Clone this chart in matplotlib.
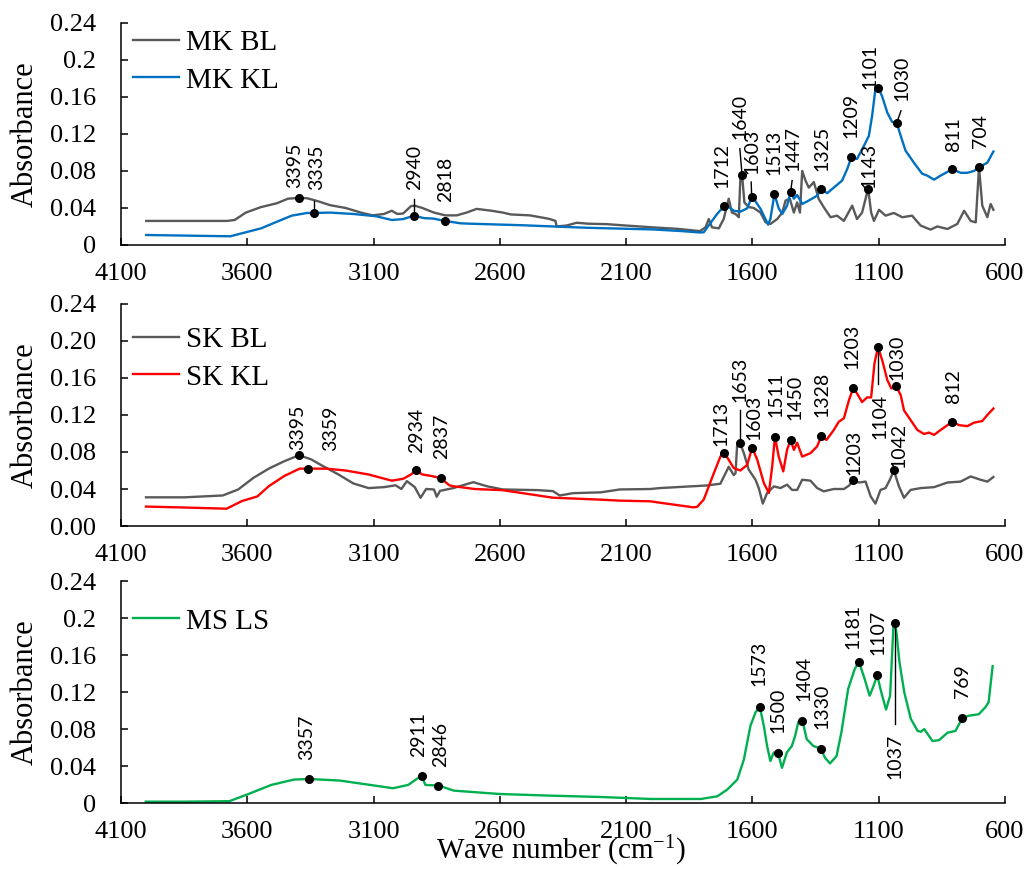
import matplotlib
matplotlib.use('Agg')
import matplotlib.pyplot as plt

plt.rcParams['font.family'] = ['Liberation Serif', 'DejaVu Serif']
plt.rcParams['mathtext.fontset'] = 'custom'
plt.rcParams['mathtext.rm'] = 'Liberation Serif'
plt.rcParams['mathtext.it'] = 'Liberation Serif:italic'

GRAY = '#595959'
BLUE = '#0070C0'
RED = '#FF0000'
GREEN = '#00B050'
LABEL_FONT = ['Lato', 'DejaVu Sans']

# ---- spectra: (wave number, absorbance) ----
mk_bl = [
    (4000, 0.026), (3850, 0.026), (3680, 0.026), (3650, 0.027), (3606, 0.035),
    (3545, 0.041), (3484, 0.045), (3439, 0.050), (3395, 0.051), (3363, 0.0505),
    (3317, 0.047), (3272, 0.043), (3211, 0.040), (3150, 0.035), (3104, 0.032),
    (3059, 0.0335), (3028, 0.037), (3006, 0.0335), (2983, 0.034), (2952, 0.042),
    (2937, 0.0425), (2907, 0.040), (2861, 0.035), (2816, 0.032), (2771, 0.032),
    (2732, 0.035), (2692, 0.039), (2633, 0.037), (2588, 0.035), (2557, 0.033),
    (2481, 0.032), (2420, 0.029), (2402, 0.028), (2380, 0.026), (2375, 0.020),
    (2336, 0.021), (2296, 0.024), (2250, 0.023), (2177, 0.0225), (2100, 0.021),
    (1994, 0.019), (1900, 0.0175), (1808, 0.015), (1786, 0.019), (1773, 0.028),
    (1760, 0.019), (1733, 0.018), (1714, 0.028), (1694, 0.050), (1681, 0.035),
    (1667, 0.0335), (1654, 0.030), (1648, 0.071), (1641, 0.0757), (1632, 0.046),
    (1615, 0.041), (1595, 0.040), (1568, 0.035), (1548, 0.0245), (1529, 0.0227),
    (1502, 0.028), (1482, 0.035), (1469, 0.048), (1452, 0.050), (1436, 0.035),
    (1423, 0.046), (1412, 0.035), (1403, 0.080), (1390, 0.0696), (1377, 0.062),
    (1357, 0.068), (1338, 0.050), (1318, 0.041), (1291, 0.030), (1265, 0.0317),
    (1238, 0.026), (1205, 0.0425), (1186, 0.028), (1166, 0.035), (1152, 0.050),
    (1142, 0.061), (1130, 0.035), (1119, 0.026), (1099, 0.038), (1073, 0.0317),
    (1040, 0.0346), (1007, 0.030), (968, 0.0317), (934, 0.021), (895, 0.0166),
    (868, 0.020), (828, 0.0173), (789, 0.0227), (762, 0.037), (736, 0.026),
    (716, 0.0245), (703, 0.084), (690, 0.0425), (670, 0.030), (657, 0.0443),
    (646, 0.038),
]
mk_kl = [
    (4000, 0.0108), (3819, 0.010), (3667, 0.0094), (3606, 0.0137), (3545, 0.018),
    (3484, 0.025), (3424, 0.0317), (3363, 0.0346), (3335, 0.0346), (3272, 0.035),
    (3180, 0.0335), (3089, 0.031), (3028, 0.027), (2983, 0.028), (2940, 0.0317),
    (2900, 0.029), (2863, 0.0285), (2818, 0.026), (2755, 0.0234), (2718, 0.023),
    (2520, 0.0214), (2256, 0.0186), (2100, 0.0175), (1994, 0.0168), (1880, 0.015),
    (1808, 0.0135), (1793, 0.0137), (1766, 0.0238), (1740, 0.0335), (1712, 0.042),
    (1694, 0.041), (1674, 0.037), (1648, 0.036), (1621, 0.0396), (1603, 0.0515),
    (1595, 0.050), (1568, 0.039), (1538, 0.022), (1529, 0.028), (1513, 0.055),
    (1496, 0.0396), (1482, 0.0335), (1463, 0.0425), (1449, 0.057), (1436, 0.050),
    (1423, 0.054), (1403, 0.0443), (1377, 0.048), (1344, 0.0533), (1327, 0.060),
    (1304, 0.056), (1278, 0.062), (1245, 0.0696), (1225, 0.082), (1208, 0.095),
    (1186, 0.093), (1159, 0.107), (1139, 0.118), (1126, 0.140), (1113, 0.169),
    (1102, 0.170), (1087, 0.161), (1066, 0.143), (1047, 0.133), (1029, 0.132),
    (1013, 0.118), (994, 0.102), (961, 0.089), (928, 0.077), (908, 0.075),
    (881, 0.0706), (855, 0.075), (828, 0.079), (809, 0.082), (776, 0.078),
    (749, 0.078), (723, 0.080), (703, 0.084), (670, 0.089), (646, 0.101),
]
sk_bl = [
    (4001, 0.031), (3850, 0.031), (3697, 0.033), (3636, 0.0395), (3576, 0.052),
    (3515, 0.062), (3454, 0.070), (3395, 0.0765), (3347, 0.072), (3302, 0.065),
    (3241, 0.056), (3180, 0.046), (3120, 0.041), (3059, 0.042), (3013, 0.044),
    (2990, 0.040), (2968, 0.0485), (2937, 0.042), (2914, 0.0305), (2892, 0.040),
    (2861, 0.0395), (2850, 0.0316), (2837, 0.038), (2784, 0.041), (2705, 0.0474),
    (2652, 0.043), (2588, 0.0395), (2451, 0.0388), (2390, 0.0377), (2363, 0.033),
    (2310, 0.0355), (2200, 0.0364), (2125, 0.0395), (2004, 0.040), (1967, 0.041),
    (1781, 0.0438), (1727, 0.0457), (1694, 0.064), (1674, 0.055), (1667, 0.057),
    (1661, 0.086), (1650, 0.090), (1634, 0.0788), (1615, 0.061), (1588, 0.050),
    (1575, 0.041), (1559, 0.0242), (1542, 0.0357), (1515, 0.0428), (1489, 0.041),
    (1463, 0.0447), (1443, 0.039), (1423, 0.039), (1403, 0.050), (1370, 0.049),
    (1344, 0.041), (1318, 0.0375), (1278, 0.040), (1238, 0.040), (1218, 0.0436),
    (1201, 0.0493), (1179, 0.047), (1152, 0.048), (1132, 0.032), (1113, 0.0242),
    (1093, 0.039), (1073, 0.041), (1056, 0.050), (1040, 0.060), (1020, 0.0428),
    (1000, 0.0305), (974, 0.039), (934, 0.041), (881, 0.042), (828, 0.047),
    (776, 0.048), (736, 0.0536), (697, 0.050), (670, 0.048), (646, 0.053),
]
sk_kl = [
    (4001, 0.021), (3850, 0.020), (3682, 0.0187), (3621, 0.027), (3560, 0.032),
    (3515, 0.043), (3454, 0.054), (3393, 0.062), (3358, 0.062), (3287, 0.062),
    (3211, 0.060), (3120, 0.0557), (3028, 0.049), (2983, 0.051), (2952, 0.0557),
    (2932, 0.060), (2907, 0.0557), (2870, 0.054), (2834, 0.0517), (2800, 0.044),
    (2784, 0.043), (2700, 0.040), (2588, 0.0387), (2390, 0.0306), (2202, 0.0285),
    (2125, 0.0274), (2004, 0.0267), (1967, 0.0252), (1834, 0.0202), (1819, 0.0207),
    (1793, 0.0285), (1753, 0.057), (1727, 0.075), (1712, 0.0794), (1694, 0.0716),
    (1674, 0.0626), (1648, 0.060), (1621, 0.066), (1601, 0.0848), (1581, 0.0716),
    (1555, 0.0465), (1535, 0.0357), (1522, 0.064), (1511, 0.0966), (1496, 0.075),
    (1478, 0.059), (1463, 0.0823), (1449, 0.093), (1436, 0.0823), (1423, 0.090),
    (1403, 0.075), (1370, 0.0788), (1344, 0.086), (1327, 0.0974), (1307, 0.093),
    (1278, 0.1038), (1258, 0.1128), (1238, 0.1164), (1218, 0.136), (1201, 0.149),
    (1186, 0.1433), (1166, 0.134), (1146, 0.139), (1130, 0.139), (1117, 0.1756),
    (1103, 0.1935), (1086, 0.179), (1066, 0.1577), (1050, 0.1487), (1031, 0.151),
    (1013, 0.1415), (1000, 0.125), (974, 0.1146), (947, 0.1038), (921, 0.0995),
    (901, 0.101), (881, 0.0985), (855, 0.1038), (828, 0.109), (809, 0.1128),
    (782, 0.109), (749, 0.108), (723, 0.1117), (690, 0.1135), (670, 0.120),
    (646, 0.127),
]
ms_ls = [
    (4002, 0.0015), (3850, 0.0015), (3671, 0.002), (3595, 0.0098), (3505, 0.0196),
    (3415, 0.0254), (3355, 0.026), (3234, 0.0243), (3114, 0.0196), (3023, 0.016),
    (2963, 0.0196), (2925, 0.0268), (2910, 0.0297), (2895, 0.0196), (2843, 0.0189),
    (2782, 0.0134), (2602, 0.0098), (2400, 0.008), (2197, 0.0065), (2001, 0.0044),
    (1804, 0.0044), (1739, 0.0073), (1700, 0.0145), (1660, 0.0254), (1634, 0.047),
    (1608, 0.0835), (1588, 0.098), (1571, 0.104), (1555, 0.0835), (1542, 0.0617),
    (1529, 0.0454), (1516, 0.0545), (1499, 0.0545), (1483, 0.038), (1464, 0.0545),
    (1444, 0.0617), (1431, 0.0726), (1418, 0.088), (1402, 0.089), (1385, 0.069),
    (1359, 0.0617), (1329, 0.0588), (1313, 0.049), (1293, 0.0428), (1267, 0.0508),
    (1248, 0.0762), (1221, 0.1234), (1195, 0.145), (1178, 0.1525), (1156, 0.1343),
    (1136, 0.116), (1120, 0.127), (1106, 0.138), (1090, 0.1198), (1071, 0.101),
    (1055, 0.116), (1042, 0.190), (1037, 0.195), (1030, 0.185), (1018, 0.1525),
    (999, 0.1198), (973, 0.091), (946, 0.078), (933, 0.077), (920, 0.080),
    (887, 0.067), (861, 0.068), (828, 0.076), (796, 0.078), (769, 0.092),
    (743, 0.0944), (704, 0.096), (678, 0.1035), (665, 0.109), (649, 0.148),
]

# ---- peak labels: (text, peak wn, absorbance, text wn, text y, leader end, va) ----
peaks_mk = [
    ('3395', 3395, 0.051, 3413, 0.062, None, 'bottom'),
    ('3335', 3335, 0.0346, 3325, 0.059, (3335, 0.048), 'bottom'),
    ('2940', 2940, 0.0317, 2937, 0.059, (2940, 0.050), 'bottom'),
    ('2818', 2818, 0.026, 2816, 0.046, None, 'bottom'),
    ('1712', 1712, 0.042, 1720, 0.062, None, 'bottom'),
    ('1640', 1641, 0.0757, 1650, 0.1146, (1650, 0.104), 'bottom'),
    ('1603', 1603, 0.0515, 1601, 0.077, (1605, 0.068), 'bottom'),
    ('1513', 1513, 0.055, 1513, 0.0757, None, 'bottom'),
    ('1447', 1449, 0.057, 1439, 0.080, (1443, 0.0696), 'bottom'),
    ('1325', 1327, 0.060, 1324, 0.080, None, 'bottom'),
    ('1209', 1208, 0.095, 1209, 0.116, None, 'bottom'),
    ('1143', 1142, 0.061, 1139, 0.062, None, 'bottom'),
    ('1101', 1102, 0.170, 1135, 0.169, None, 'bottom'),
    ('1030', 1029, 0.132, 1007, 0.156, (1012, 0.145), 'bottom'),
    ('811', 809, 0.082, 805, 0.102, None, 'bottom'),
    ('704', 703, 0.084, 696, 0.105, None, 'bottom'),
]
peaks_sk = [
    ('3395', 3395, 0.0765, 3401, 0.0826, None, 'bottom'),
    ('3359', 3358, 0.062, 3269, 0.081, None, 'bottom'),
    ('2934', 2932, 0.060, 2930, 0.079, None, 'bottom'),
    ('2837', 2834, 0.0517, 2831, 0.072, None, 'bottom'),
    ('1713', 1712, 0.0794, 1724, 0.086, None, 'bottom'),
    ('1653', 1650, 0.090, 1650, 0.134, (1650, 0.125), 'bottom'),
    ('1603', 1601, 0.0848, 1595, 0.093, None, 'bottom'),
    ('1511', 1511, 0.0966, 1505, 0.118, None, 'bottom'),
    ('1450', 1449, 0.093, 1430, 0.1146, None, 'bottom'),
    ('1328', 1327, 0.0974, 1324, 0.118, None, 'bottom'),
    ('1203', 1201, 0.149, 1205, 0.170, None, 'bottom'),
    ('1104', 1103, 0.1935, 1095, 0.1433, (1103, 0.154), 'top'),
    ('1030', 1031, 0.151, 1027, 0.1577, None, 'bottom'),
    ('812', 809, 0.1128, 805, 0.133, None, 'bottom'),
    ('1203', 1201, 0.0493, 1198, 0.0554, None, 'bottom'),
    ('1042', 1040, 0.060, 1020, 0.0626, None, 'bottom'),
]
peaks_ms = [
    ('3357', 3355, 0.026, 3365, 0.046, None, 'bottom'),
    ('2911', 2910, 0.0297, 2921, 0.0497, None, 'bottom'),
    ('2846', 2843, 0.0189, 2833, 0.0388, None, 'bottom'),
    ('1573', 1571, 0.104, 1575, 0.127, None, 'bottom'),
    ('1500', 1499, 0.0545, 1497, 0.076, None, 'bottom'),
    ('1404', 1402, 0.089, 1398, 0.1107, None, 'bottom'),
    ('1330', 1329, 0.0588, 1326, 0.080, None, 'bottom'),
    ('1181', 1178, 0.1525, 1202, 0.167, None, 'bottom'),
    ('1107', 1106, 0.138, 1104, 0.160, None, 'bottom'),
    ('1037', 1037, 0.195, 1037, 0.0744, (1037, 0.085), 'top'),
    ('769', 769, 0.092, 770, 0.114, None, 'bottom'),
]

x_ticks = [4100, 3600, 3100, 2600, 2100, 1600, 1100, 600]
y_ticks = [0, 0.04, 0.08, 0.12, 0.16, 0.2, 0.24]
y_labels_short = ['0', '0.04', '0.08', '0.12', '0.16', '0.2', '0.24']
y_labels_fixed = ['0.00', '0.04', '0.08', '0.12', '0.16', '0.20', '0.24']


def draw_panel(ax, series, peaks, ylabels, legend_top):
    for name, pts, color in series:
        wn = [p[0] for p in pts]
        ab = [p[1] for p in pts]
        ax.plot(wn, ab, color=color, lw=1.7, label=name, solid_joinstyle='round')
    for text, wn, ab, tx, ty, lead, va in peaks:
        if lead is not None:
            ax.plot([wn, lead[0]], [ab, lead[1]], color='black', lw=1.0)
        ax.plot([wn], [ab], 'o', color='black', ms=5.5, zorder=5)
        ax.text(tx, ty, text, rotation=90, ha='center', va=va,
                fontsize=14, family=LABEL_FONT)
    ax.set_xlim(4100, 600)
    ax.set_ylim(0, 0.24)
    ax.set_xticks(x_ticks)
    ax.set_yticks(y_ticks)
    ax.set_yticklabels(ylabels)
    ax.tick_params(direction='in', length=5, width=1.1, labelsize=19)
    ax.tick_params(axis='y', pad=18)
    ax.tick_params(axis='x', pad=13)
    for side in ('top', 'right'):
        ax.spines[side].set_visible(False)
    for side in ('left', 'bottom'):
        ax.spines[side].set_linewidth(1.1)
    ax.set_ylabel('Absorbance', fontsize=22)
    ax.yaxis.set_label_coords(-0.0916, 0.5)
    ax.legend(loc='upper left', bbox_to_anchor=(0.014, legend_top), frameon=False,
              fontsize=21, handlelength=1.55, handletextpad=0.25,
              labelspacing=0.37, borderpad=0, borderaxespad=0)


fig = plt.figure(figsize=(10.29, 8.69), dpi=100)
left, width, height = 0.1176, 0.8591, 0.2555
ax1 = fig.add_axes([left, 0.7181, width, height])
ax2 = fig.add_axes([left, 0.3947, width, height])
ax3 = fig.add_axes([left, 0.0759, width, height])

draw_panel(ax1, [('MK BL', mk_bl, GRAY), ('MK KL', mk_kl, BLUE)], peaks_mk,
           y_labels_short, 0.968)
draw_panel(ax2, [('SK BL', sk_bl, GRAY), ('SK KL', sk_kl, RED)], peaks_sk,
           y_labels_fixed, 0.896)
draw_panel(ax3, [('MS LS', ms_ls, GREEN)], peaks_ms, y_labels_short, 0.878)

fig.text(0.545, 0.001, 'Wave number (cm$^{-1}$)', ha='center', va='bottom', fontsize=21)

fig.savefig('out.png', dpi=100)
